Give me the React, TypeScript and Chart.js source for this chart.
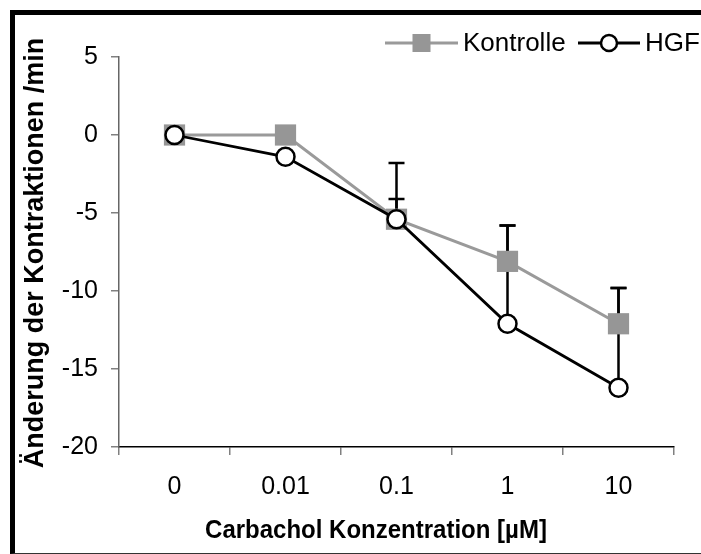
import React, { useEffect, useRef } from "react";
import { Chart, registerables } from "chart.js";

Chart.register(...registerables);

const categories = ["0", "0.01", "0.1", "1", "10"];
const seriesNames = ["Kontrolle", "HGF"];
const kontrolleValues = [0, 0, -5.4, -8.1, -12.1];
const kontrolleErrors = [0, 0, 1.3, 2.3, 2.3];
const hgfValues = [0, -1.4, -5.4, -12.1, -16.2];
const hgfErrors = [0, 0, 3.6, 6.3, 6.4];
const yMin = -20;
const yMax = 5;
const yStep = 5;
const yTitle = "Änderung der Kontraktionen /min";
const xTitle = "Carbachol Konzentration [µM]";

const FONT = "'Liberation Sans', Arial, Helvetica, sans-serif";
const GRAY = "#969696";
const GRAY_LINE = "#9a9a9a";

const errorBarPlugin = {
  id: "errorBars",
  beforeDatasetsDraw(chart: any) {
    const { ctx } = chart;
    const x = chart.scales.x;
    const y = chart.scales.y;
    ctx.save();
    ctx.strokeStyle = "#000";
    ctx.lineWidth = 2.5;
    chart.data.datasets.forEach((ds: any) => {
      const errs: number[] = ds.errors;
      if (!errs) return;
      ds.data.forEach((v: number, i: number) => {
        const e = errs[i];
        if (!e) return;
        const px = x.getPixelForValue(i);
        const py = y.getPixelForValue(v);
        const pt = y.getPixelForValue(v + e);
        ctx.beginPath();
        ctx.moveTo(px, py);
        ctx.lineTo(px, pt);
        ctx.moveTo(px - 8, pt);
        ctx.lineTo(px + 8, pt);
        ctx.stroke();
      });
    });
    ctx.restore();
  },
};

const decorPlugin = {
  id: "decor",
  afterDraw(chart: any) {
    const { ctx } = chart;
    ctx.save();
    // axis titles
    ctx.fillStyle = "#000";
    ctx.font = `bold 24px ${FONT}`;
    ctx.textAlign = "center";
    ctx.textBaseline = "alphabetic";
    ctx.save();
    ctx.translate(376, 538);
    ctx.scale(1, 1.08);
    ctx.fillText(xTitle, 0, 0);
    ctx.restore();
    ctx.save();
    ctx.translate(43, 253);
    ctx.rotate(-Math.PI / 2);
    ctx.font = `bold 27px ${FONT}`;
    ctx.fillText(yTitle, 0, 0);
    ctx.restore();

    // legend
    const ly = 43;
    const ds = chart.data.datasets;
    ctx.font = `26px ${FONT}`;
    ctx.textAlign = "left";
    ctx.textBaseline = "middle";
    const starts = [385, 578];
    ds.forEach((d: any, idx: number) => {
      const lx = starts[idx];
      const lineW = idx === 0 ? 73 : 62;
      ctx.strokeStyle = d.borderColor;
      ctx.lineWidth = d.borderWidth;
      ctx.beginPath();
      ctx.moveTo(lx, ly);
      ctx.lineTo(lx + lineW, ly);
      ctx.stroke();
      const cx = lx + lineW / 2;
      if (d.pointStyle === "rect") {
        ctx.fillStyle = d.pointBackgroundColor;
        ctx.fillRect(cx - 9, ly - 9, 18, 18);
      } else {
        ctx.beginPath();
        ctx.arc(cx, ly, 8, 0, Math.PI * 2);
        ctx.fillStyle = "#fff";
        ctx.fill();
        ctx.lineWidth = 2.5;
        ctx.strokeStyle = "#000";
        ctx.stroke();
      }
      ctx.fillStyle = "#000";
      const tx = lx + lineW + 5;
      ctx.fillText(d.label, tx, ly + 1);
    });
    ctx.restore();
  },
};

export default function App() {
  const ref = useRef<HTMLCanvasElement | null>(null);
  useEffect(() => {
    if (!ref.current) return;
    const chart = new Chart(ref.current, {
      type: "line",
      data: {
        labels: categories,
        datasets: [
          {
            label: seriesNames[0],
            data: kontrolleValues,
            errors: kontrolleErrors,
            borderColor: GRAY_LINE,
            borderWidth: 3,
            pointStyle: "rect",
            pointRadius: 15,
            pointBackgroundColor: GRAY,
            pointBorderColor: GRAY,
            pointBorderWidth: 0,
            tension: 0,
            order: 1,
          } as any,
          {
            label: seriesNames[1],
            data: hgfValues,
            errors: hgfErrors,
            borderColor: "#000",
            borderWidth: 2.8,
            pointStyle: "circle",
            pointRadius: 9,
            pointBackgroundColor: "#fff",
            pointBorderColor: "#000",
            pointBorderWidth: 2.5,
            tension: 0,
            order: 0,
          } as any,
        ],
      },
      options: {
        animation: false,
        responsive: false,
        devicePixelRatio: 1,
        layout: { padding: { left: 0, top: 57, right: 27, bottom: 0 } },
        plugins: { legend: { display: false }, tooltip: { enabled: false } },
        scales: {
          x: {
            type: "category",
            offset: true,
            grid: {
              offset: true,
              drawOnChartArea: false,
              drawTicks: true,
              tickLength: 8,
              color: "#808080",
              lineWidth: 1.5,
            },
            border: { color: "#000", width: 1.5 },
            ticks: {
              color: "#000",
              font: { family: FONT, size: 25 },
              padding: 17,
              maxRotation: 0,
              autoSkip: false,
            },
            afterFit: (s: any) => {
              s.height = 107;
            },
          },
          y: {
            min: yMin,
            max: yMax,
            grid: {
              drawOnChartArea: false,
              drawTicks: true,
              tickLength: 8,
              color: "#808080",
              lineWidth: 1.5,
            },
            border: { color: "#666", width: 1.5 },
            ticks: {
              stepSize: yStep,
              color: "#000",
              font: { family: FONT, size: 25 },
              padding: 13,
            },
            afterFit: (s: any) => {
              s.width = 119;
            },
          },
        },
      },
      plugins: [errorBarPlugin, decorPlugin],
    } as any);
    return () => chart.destroy();
  }, []);

  return (
    <div
      style={{
        position: "fixed",
        left: 0,
        top: 0,
        width: 701,
        height: 554,
        overflow: "hidden",
        background: "#fff",
      }}
    >
      <div
        style={{
          position: "absolute",
          left: 10,
          top: 10,
          width: 720,
          height: 538,
          borderLeft: "5px solid #000",
          borderTop: "5px solid #000",
          borderBottom: "1px solid #333",
        }}
      />
      <canvas
        ref={ref}
        width={701}
        height={554}
        style={{ position: "absolute", left: 0, top: 0, width: 701, height: 554 }}
      />
    </div>
  );
}
